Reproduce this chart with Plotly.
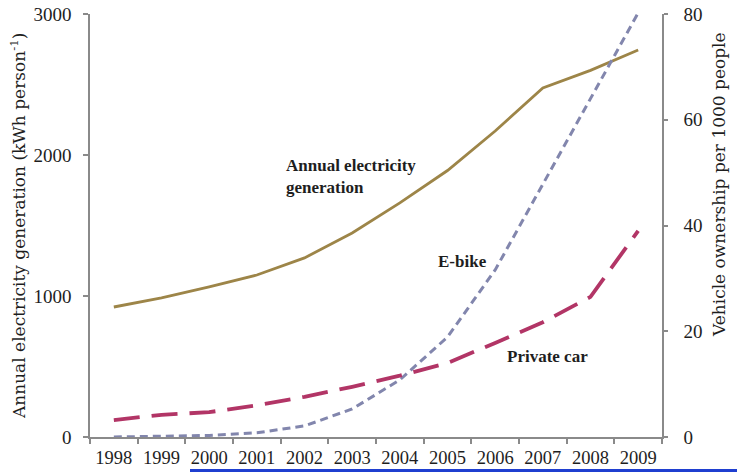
import plotly.graph_objects as go

# Years and series
years = ["1998", "1999", "2000", "2001", "2002", "2003", "2004", "2005",
         "2006", "2007", "2008", "2009"]
electricity = [922, 986, 1064, 1149, 1270, 1447, 1660, 1890, 2170, 2475, 2600, 2745]
ebike = [0.0, 0.1, 0.3, 0.8, 2.1, 5.3, 10.8, 18.9, 31.6, 47.8, 64.1, 80.2]
private_car = [3.2, 4.2, 4.7, 6.0, 7.6, 9.5, 11.6, 14.0, 17.8, 21.7, 26.5, 39.0]

SERIF = "Liberation Serif, Times New Roman, serif"
WIDE_SERIF = "DejaVu Serif, serif"
AXIS_GREY = "#8a8a8a"
TEXT = "#1e1e1e"

fig = go.Figure()

fig.add_trace(go.Scatter(
    x=years, y=electricity, mode="lines", yaxis="y",
    line=dict(color="#9d8548", width=2.8),
    name="Annual electricity generation",
))
fig.add_trace(go.Scatter(
    x=years, y=ebike, mode="lines", yaxis="y2",
    line=dict(color="#8286ad", width=3, dash="8px,5px"),
    name="E-bike",
))
fig.add_trace(go.Scatter(
    x=years, y=private_car, mode="lines", yaxis="y2",
    line=dict(color="#b23566", width=3.8, dash="26px,12px"),
    name="Private car",
))

fig.update_layout(
    width=737, height=476,
    margin=dict(l=90, r=75, t=14, b=39),
    paper_bgcolor="white", plot_bgcolor="white",
    showlegend=False,
    font=dict(family=SERIF, color=TEXT, size=15),
    xaxis=dict(
        type="category", tickson="boundaries", range=[-0.5, 11.5],
        tickangle=0, automargin=False,
        ticks="outside", ticklen=5, tickcolor=AXIS_GREY, tickwidth=1.5,
        showline=True, linecolor=AXIS_GREY, linewidth=1.5,
        showgrid=False, zeroline=False, ticklabelstandoff=3,
        tickfont=dict(family=SERIF, size=18.5, color=TEXT),
    ),
    yaxis=dict(
        range=[0, 3000], tickvals=[0, 1000, 2000, 3000], automargin=False,
        ticks="outside", ticklen=5, tickcolor=AXIS_GREY, tickwidth=1.5,
        showline=True, linecolor=AXIS_GREY, linewidth=1.5,
        showgrid=False, zeroline=False, ticklabelstandoff=8,
        tickfont=dict(family=SERIF, size=19, color=TEXT),
    ),
    yaxis2=dict(
        range=[0, 80], tickvals=[0, 20, 40, 60, 80], automargin=False,
        overlaying="y", side="right",
        ticks="outside", ticklen=4, tickcolor=AXIS_GREY, tickwidth=1.5,
        showline=True, linecolor=AXIS_GREY, linewidth=1.5,
        showgrid=False, zeroline=False, ticklabelstandoff=12,
        tickfont=dict(family=SERIF, size=19, color=TEXT),
    ),
)

# Axis titles
fig.add_annotation(
    text="Annual electricity generation (kWh person<sup>-1</sup>)",
    xref="paper", yref="paper", x=(18 - 90) / 572, y=(437 - 226) / 423,
    xanchor="center", yanchor="middle",
    textangle=-90, showarrow=False,
    font=dict(family=WIDE_SERIF, size=17, color=TEXT),
)
fig.add_annotation(
    text="Vehicle ownership per 1000 people",
    xref="paper", yref="paper", x=(719 - 90) / 572, y=(437 - 185) / 423,
    xanchor="center", yanchor="middle",
    textangle=-90, showarrow=False,
    font=dict(family=WIDE_SERIF, size=17, color=TEXT),
)

# Series labels
fig.add_annotation(
    text="<b>Annual electricity<br>generation</b>", align="left",
    xref="x", yref="y", x=3.57, y=1850, xanchor="left", yanchor="middle",
    showarrow=False, font=dict(family=SERIF, size=17, color=TEXT),
)
fig.add_annotation(
    text="<b>E-bike</b>", xref="x", yref="y2", x=7.32, y=33.1,
    xanchor="center", yanchor="middle", showarrow=False,
    font=dict(family=SERIF, size=17, color=TEXT),
)
fig.add_annotation(
    text="<b>Private car</b>", xref="x", yref="y2", x=9.1, y=15.3,
    xanchor="center", yanchor="middle", showarrow=False,
    font=dict(family=SERIF, size=17, color=TEXT),
)

# Blue rule along the bottom edge
fig.add_shape(
    type="rect", xref="paper", yref="paper",
    x0=(190 - 90) / 572, x1=(737 - 90) / 572,
    y0=(437 - 472) / 423, y1=(437 - 469) / 423,
    line=dict(width=0), fillcolor="#1f3fd0",
)

fig.write_html("out.html")
